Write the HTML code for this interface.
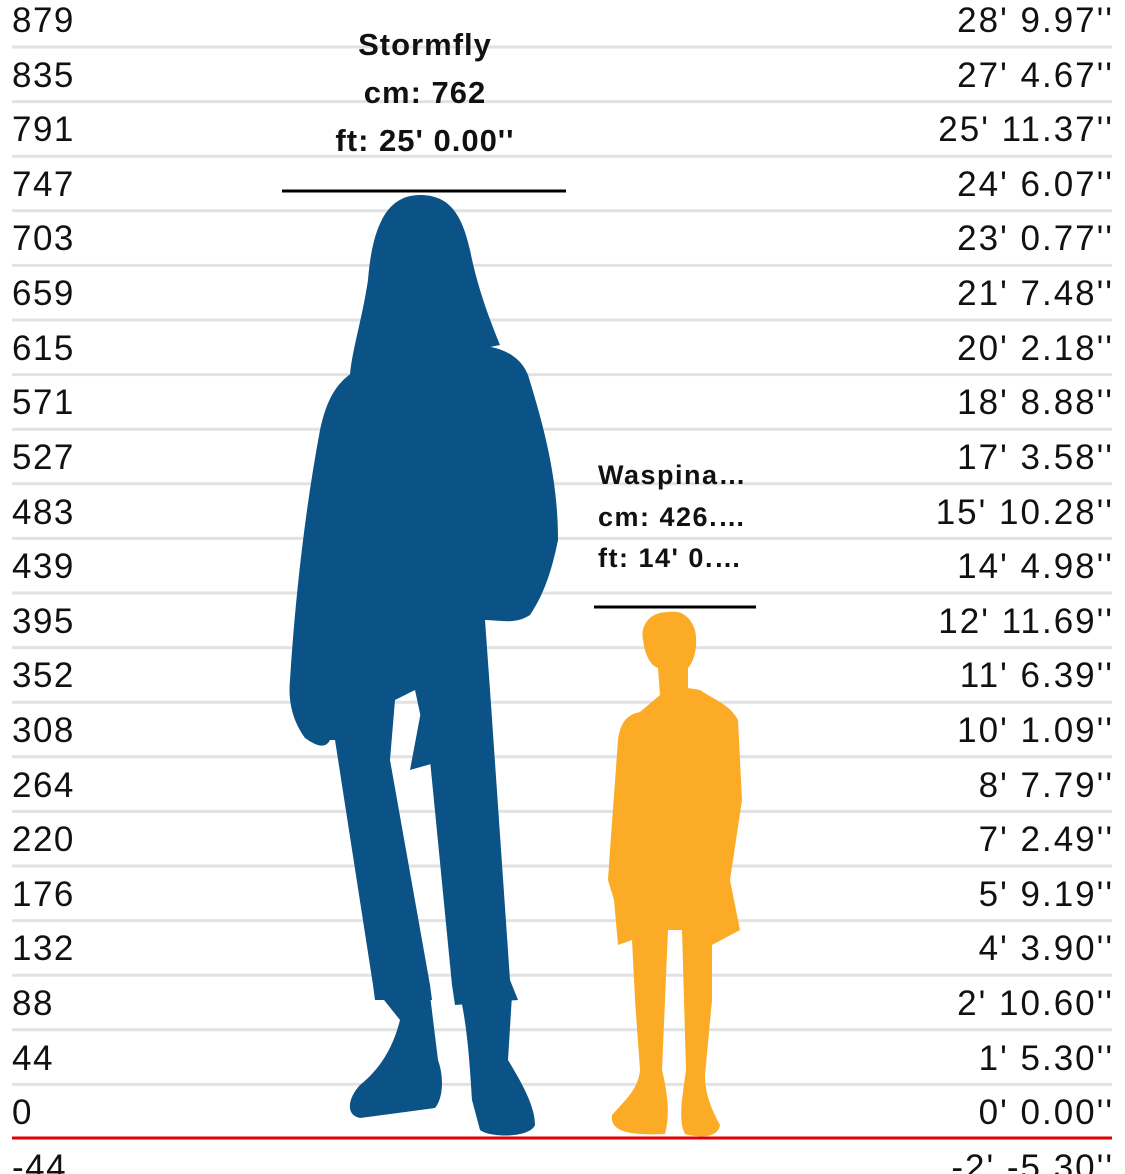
<!DOCTYPE html>
<html><head><meta charset="utf-8"><style>
html,body{margin:0;padding:0;background:#fff;}
svg{display:block;}
text{font-family:"Liberation Sans",sans-serif;}
</style></head><body>
<svg width="1125" height="1174" viewBox="0 0 1125 1174" xmlns="http://www.w3.org/2000/svg">
<g stroke="#e2e2e2" stroke-width="3">
<line x1="12" x2="1112" y1="47" y2="47"/><line x1="12" x2="1112" y1="101.6" y2="101.6"/><line x1="12" x2="1112" y1="156.2" y2="156.2"/><line x1="12" x2="1112" y1="210.8" y2="210.8"/><line x1="12" x2="1112" y1="265.4" y2="265.4"/><line x1="12" x2="1112" y1="320" y2="320"/><line x1="12" x2="1112" y1="374.6" y2="374.6"/><line x1="12" x2="1112" y1="429.2" y2="429.2"/><line x1="12" x2="1112" y1="483.8" y2="483.8"/><line x1="12" x2="1112" y1="538.4" y2="538.4"/><line x1="12" x2="1112" y1="593" y2="593"/><line x1="12" x2="1112" y1="647.6" y2="647.6"/><line x1="12" x2="1112" y1="702.2" y2="702.2"/><line x1="12" x2="1112" y1="756.8" y2="756.8"/><line x1="12" x2="1112" y1="811.4" y2="811.4"/><line x1="12" x2="1112" y1="866" y2="866"/><line x1="12" x2="1112" y1="920.6" y2="920.6"/><line x1="12" x2="1112" y1="975.2" y2="975.2"/><line x1="12" x2="1112" y1="1029.8" y2="1029.8"/><line x1="12" x2="1112" y1="1084.4" y2="1084.4"/>
</g>
<line x1="12" x2="1112" y1="1138" y2="1138" stroke="#e00000" stroke-width="3"/>
<g font-size="35" fill="#111" letter-spacing="1.5">
<text x="12" y="32">879</text><text x="12" y="87">835</text><text x="12" y="141">791</text><text x="12" y="196">747</text><text x="12" y="250">703</text><text x="12" y="305">659</text><text x="12" y="360">615</text><text x="12" y="414">571</text><text x="12" y="469">527</text><text x="12" y="524">483</text><text x="12" y="578">439</text><text x="12" y="633">395</text><text x="12" y="687">352</text><text x="12" y="742">308</text><text x="12" y="797">264</text><text x="12" y="851">220</text><text x="12" y="906">176</text><text x="12" y="960">132</text><text x="12" y="1015">88</text><text x="12" y="1070">44</text><text x="12" y="1124">0</text><text x="12" y="1179">-44</text>
</g>
<g font-size="35" fill="#111" text-anchor="end" letter-spacing="2">
<text x="1114" y="32">28' 9.97''</text><text x="1114" y="87">27' 4.67''</text><text x="1114" y="141">25' 11.37''</text><text x="1114" y="196">24' 6.07''</text><text x="1114" y="250">23' 0.77''</text><text x="1114" y="305">21' 7.48''</text><text x="1114" y="360">20' 2.18''</text><text x="1114" y="414">18' 8.88''</text><text x="1114" y="469">17' 3.58''</text><text x="1114" y="524">15' 10.28''</text><text x="1114" y="578">14' 4.98''</text><text x="1114" y="633">12' 11.69''</text><text x="1114" y="687">11' 6.39''</text><text x="1114" y="742">10' 1.09''</text><text x="1114" y="797">8' 7.79''</text><text x="1114" y="851">7' 2.49''</text><text x="1114" y="906">5' 9.19''</text><text x="1114" y="960">4' 3.90''</text><text x="1114" y="1015">2' 10.60''</text><text x="1114" y="1070">1' 5.30''</text><text x="1114" y="1124">0' 0.00''</text><text x="1114" y="1179">-2' -5.30''</text>
</g>
<!-- Stormfly -->
<g fill="#0b5286">
<path d="M420 195 C385 195 372 230 368 280 C362 320 352 350 350 375 L500 345 C490 320 478 290 470 250 C462 215 450 195 420 195 Z"/>
<path d="M392 330 L455 330 L470 345 C500 345 520 355 528 375 C545 430 558 480 558 540 C550 580 540 600 530 615 C515 625 500 620 485 620 L490 690 L510 980 L518 1000 L455 1005 L452 985 L430 760 L415 690 L395 700 L390 760 L430 985 L432 1000 L375 1000 L373 985 L335 740 L330 740 C325 750 315 745 305 738 C292 720 288 700 290 680 C295 600 305 510 320 430 C330 385 345 370 392 355 Z"/>
<path d="M425 690 C440 700 445 740 445 760 L410 770 Z"/>
<path d="M380 995 L430 995 L438 1060 C445 1080 442 1100 435 1108 L360 1118 C345 1115 348 1098 360 1085 C385 1065 395 1040 400 1020 Z"/>
<path d="M460 995 L512 995 L508 1060 C520 1080 535 1105 535 1125 C530 1138 490 1138 480 1130 L472 1100 C470 1070 468 1030 460 995 Z"/>
</g>
<line x1="282" x2="566" y1="191" y2="191" stroke="#000" stroke-width="3"/>
<g font-size="31" font-weight="bold" fill="#111" text-anchor="middle" letter-spacing="1">
<text x="425" y="55">Stormfly</text><text x="425" y="103">cm: 762</text><text x="425" y="151">ft: 25' 0.00''</text>
</g>
<!-- Waspina -->
<g fill="#fbab25">
<path d="M668 612 C650 612 640 625 643 640 C645 655 650 665 658 668 L660 695 L640 712 C625 715 620 725 618 740 L610 850 L608 880 L614 900 L618 945 L632 940 L635 1000 L640 1070 C638 1090 625 1100 612 1115 C610 1130 625 1136 665 1134 C670 1115 668 1095 662 1070 L665 1000 L668 930 L682 930 L684 1000 L686 1070 C682 1100 678 1120 685 1134 C700 1138 718 1138 720 1125 C712 1110 705 1095 705 1075 L712 1000 L712 945 L740 930 L730 880 L742 800 L738 720 C730 705 715 700 700 690 L688 688 L688 668 C695 660 698 645 695 630 C690 615 680 610 668 612 Z"/>
</g>
<line x1="594" x2="756" y1="607" y2="607" stroke="#000" stroke-width="3"/>
<g font-size="27" font-weight="bold" fill="#111" letter-spacing="1.5">
<text x="598" y="484">Waspina…</text><text x="598" y="526">cm: 426.…</text><text x="598" y="567">ft: 14' 0.…</text>
</g>
</svg>
</body></html>
